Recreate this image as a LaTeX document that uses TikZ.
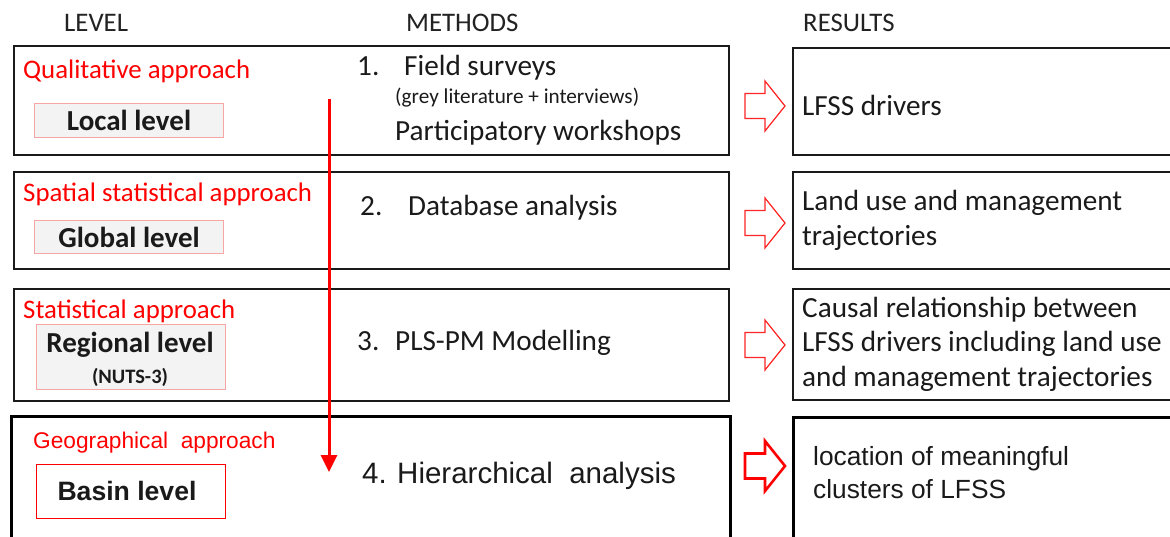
\documentclass[tikz,border=0pt]{standalone}
\usepackage{fontspec}
\setmainfont{Carlito}
\newfontfamily\arialf{Liberation Sans}
\usetikzlibrary{arrows.meta}
\definecolor{lvlfill}{HTML}{F3F3F3}
\definecolor{lvlpink}{HTML}{F7A5A5}
\definecolor{ink}{HTML}{1A1A1A}
\definecolor{hdr}{HTML}{222222}
\tikzset{
  rowbox/.style={draw=ink, line width=1.6pt, inner sep=0pt, anchor=north west},
  rowboxb/.style={draw=black, line width=2.6pt, inner sep=0pt, anchor=north west},
  lvlbox/.style={draw=lvlpink, fill=lvlfill, line width=1.1pt, inner sep=0pt, anchor=north west},
  lvlboxb/.style={draw=red, fill=white, line width=1.3pt, inner sep=0pt, anchor=north west},
  hdrtxt/.style={anchor=base west, inner sep=0pt, text=hdr, font=\fontsize{26.8}{30}\selectfont},
  apptxt/.style={anchor=base west, inner sep=0pt, text=red, font=\fontsize{26.8}{30}\selectfont},
  apptxtb/.style={anchor=base west, inner sep=0pt, text=red, font=\arialf\fontsize{22.7}{27}\selectfont},
  lvltxt/.style={inner sep=0pt, text=ink, font=\bfseries\fontsize{29}{32}\selectfont},
  mtxt/.style={anchor=base west, inner sep=0pt, text=ink, font=\fontsize{29.2}{35}\selectfont},
  mtxtb/.style={anchor=base west, inner sep=0pt, text=ink, font=\arialf\fontsize{29.5}{35}\selectfont},
  rtxt/.style={anchor=base west, inner sep=0pt, text=ink, align=left, font=\fontsize{29.2}{34.5}\selectfont},
  rtxtb/.style={anchor=base west, inner sep=0pt, text=ink, align=left, font=\arialf\fontsize{26.3}{33}\selectfont},
  hollow/.style={draw=red!85!white, fill=white, line width=1.2pt, line join=miter},
  hollowb/.style={draw=red, fill=white, line width=2.6pt, line join=miter},
}
\newcommand{\harrow}[2]{%
  \draw[#2, shift={(745,#1)}] (0,-12.5) -- (20,-12.5) -- (20,-25) -- (40,0) -- (20,25) -- (20,12.5) -- (0,12.5) -- cycle;}
\begin{document}
\begin{tikzpicture}[x=1pt,y=-1pt]
\useasboundingbox (0,0) rectangle (1170,536);
\fill[white] (0,0) rectangle (1170,536);

% headers
\node[hdrtxt] (hlevel) at (64,31) {LEVEL};
\node[hdrtxt] (hmeth) at (406,31) {METHODS};
\node[hdrtxt] (hres) at (803,31) {RESULTS};

% left/method row boxes
\node[rowbox, minimum width=715pt, minimum height=109pt] (m1) at (13,45) {};
\node[rowbox, minimum width=715pt, minimum height=97pt] (m2) at (13,171) {};
\node[rowbox, minimum width=715pt, minimum height=112pt] (m3) at (13,288) {};
\node[rowboxb, minimum width=719pt, minimum height=140pt] (m4) at (10,415) {};

% result boxes
\node[rowbox, minimum width=390pt, minimum height=107pt] (r1) at (792,47) {};
\node[rowbox, minimum width=390pt, minimum height=97pt] (r2) at (792,171) {};
\node[rowbox, minimum width=390pt, minimum height=111pt] (r3) at (792,288) {};
\node[rowboxb, minimum width=390pt, minimum height=140pt] (r4) at (792,416) {};

% approach labels
\node[apptxt] (a1) at (23,78) {Qualitative approach};
\node[apptxt] (a2) at (23,201) {Spatial statistical approach};
\node[apptxt] (a3) at (23,318) {Statistical approach};
\node[apptxtb] (a4) at (33,448) {Geographical\ \ approach};

% level boxes
\node[lvlbox, minimum width=189pt, minimum height=34pt] (l1) at (34,103) {};
\node[lvltxt] (l1t) at (l1.center) {Local level};
\node[lvlbox, minimum width=189pt, minimum height=33pt] (l2) at (34,220) {};
\node[lvltxt] (l2t) at (l2.center) {Global level};
\node[lvlbox, minimum width=189pt, minimum height=65pt] (l3) at (36,324) {};
\node[lvltxt, anchor=base] (l3t) at (130,352) {Regional level};
\node[inner sep=0pt, anchor=base, text=ink, font=\bfseries\fontsize{20.5}{24}\selectfont] (l3s) at (130,383) {(NUTS-3)};
\node[lvlboxb, minimum width=189pt, minimum height=54pt] (l4) at (36,464) {};
\node[inner sep=0pt, text=ink, font=\arialf\bfseries\fontsize{26.6}{30}\selectfont] (l4t) at (127,491) {Basin level};

% methods
\node[mtxt] (n1) at (357,75) {1.};
\node[mtxt] (t1) at (404,75) {Field surveys};
\node[anchor=base west, inner sep=0pt, text=ink, font=\fontsize{21.2}{24}\selectfont] (t1s) at (395,103) {(grey literature + interviews)};
\node[mtxt] (t1b) at (395,140) {Participatory workshops};
\node[mtxt] (n2) at (360,215) {2.};
\node[mtxt] (t2) at (408,215) {Database analysis};
\node[mtxt] (n3) at (357,350) {3.};
\node[mtxt] (t3) at (395,350) {PLS-PM Modelling};
\node[mtxtb] (n4) at (362,483) {4.};
\node[mtxtb] (t4) at (397,483) {Hierarchical\ \ analysis};

% results (base anchor = baseline of last line)
\node[rtxt] (res1) at (802,115) {LFSS drivers};
\node[rtxt] (res2) at (802,245) {Land use and management\\trajectories};
\node[rtxt] (res3) at (802,386) {Causal relationship between\\LFSS drivers including land use\\and management trajectories};
\node[rtxtb] (res4) at (813,498) {location of meaningful\\clusters of LFSS};

% hollow arrows
\harrow{106}{hollow}
\harrow{223}{hollow}
\harrow{345}{hollow}
\harrow{466}{hollowb}

% red vertical arrow
\coordinate (vs) at (329,99);
\coordinate (ve) at (329,472);
\draw[red, line width=3pt, -{Triangle[width=16pt,length=17pt]}] (vs) -- (ve);
\end{tikzpicture}
\end{document}
